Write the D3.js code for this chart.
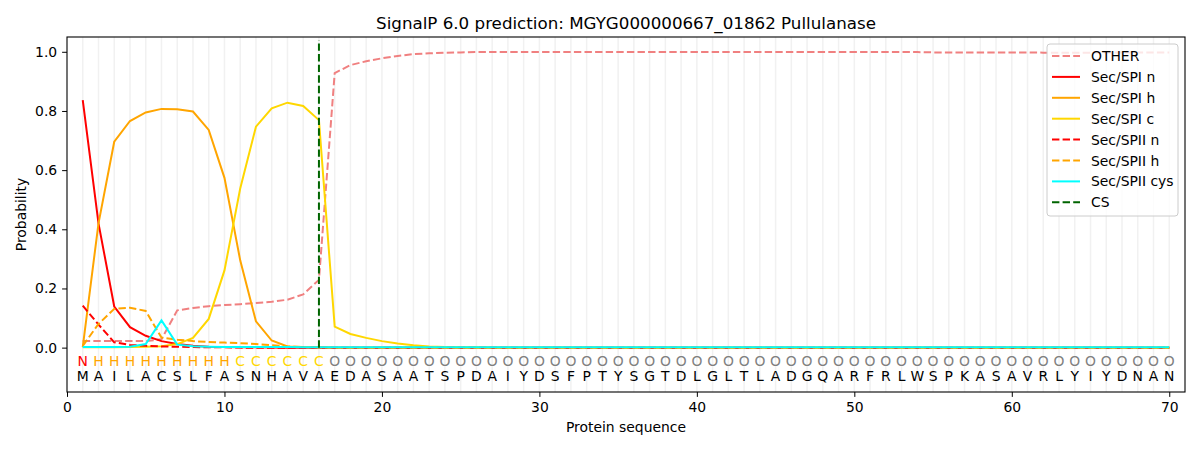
<!DOCTYPE html>
<html lang="en">
<head>
    <meta charset="UTF-8">
    <title>SignalP 6.0 prediction</title>
    <script src="https://d3js.org/d3.v7.min.js"></script>
    <style>
        body { margin: 0; background: #fff; }
        text { font-family: "DejaVu Sans", sans-serif; fill: #000; }
        .grid line { stroke: #f1f1f1; stroke-width: 1.5px; }
        .axis path, .axis line { stroke: #000; }
    </style>
</head>
<body>
    <svg width="1200" height="450"></svg>
    <script>
        // amino acid sequence and per-position region labels
        const sequence = "MAILACSLFASNHAVAEDASAATSPDAIYDSFPTYSGTDLGLTLADGQARFRLWSPKASAVRLYIYDNAN".split("");
        const regionLabels = ("N" + "HHHHHHHHH" + "CCCCCC" +
            "OOOOOOOOOOOOOOOOOOOOOOOOOOOOOOOOOOOOOOOOOOOOOOOOOOOOOO").split("");

        const other = [0.022, 0.022, 0.022, 0.022, 0.022, 0.028, 0.126, 0.134, 0.140, 0.144,
            0.147, 0.151, 0.155, 0.162, 0.180, 0.229, 0.928, 0.955, 0.968, 0.978,
            0.986, 0.992, 0.995, 0.997, 0.998, 0.999, 0.999, 0.999, 0.999, 0.999,
            0.999, 0.999, 0.999, 0.999, 0.999, 0.999, 0.999, 0.999, 0.999, 0.999,
            0.999, 0.999, 0.999, 0.999, 0.999, 0.999, 0.999, 0.999, 0.999, 0.999,
            0.999, 0.999, 0.999, 0.999, 0.998, 0.998, 0.998, 0.998, 0.998, 0.998,
            0.998, 0.997, 0.997, 0.997, 0.997, 0.998, 0.998, 0.998, 0.998, 0.998];
        const spiN = [0.837, 0.420, 0.139, 0.069, 0.040, 0.022, 0.012, 0.006, 0.003, 0.002,
            0.001, 0.001, 0, 0, 0, 0, 0, 0, 0, 0,
            0, 0, 0, 0, 0, 0, 0, 0, 0, 0,
            0, 0, 0, 0, 0, 0, 0, 0, 0, 0,
            0, 0, 0, 0, 0, 0, 0, 0, 0, 0,
            0, 0, 0, 0, 0, 0, 0, 0, 0, 0,
            0, 0, 0, 0, 0, 0, 0, 0, 0, 0];
        const spiH = [0.002, 0.420, 0.696, 0.766, 0.795, 0.807, 0.806, 0.798, 0.736, 0.574,
            0.295, 0.089, 0.024, 0.004, 0.002, 0.001, 0, 0, 0, 0,
            0, 0, 0, 0, 0, 0, 0, 0, 0, 0,
            0, 0, 0, 0, 0, 0, 0, 0, 0, 0,
            0, 0, 0, 0, 0, 0, 0, 0, 0, 0,
            0, 0, 0, 0, 0, 0, 0, 0, 0, 0,
            0, 0, 0, 0, 0, 0, 0, 0, 0, 0];
        const spiC = [0.001, 0.001, 0.001, 0.002, 0.003, 0.005, 0.012, 0.033, 0.097, 0.261,
            0.538, 0.747, 0.809, 0.828, 0.817, 0.769, 0.071, 0.046, 0.033, 0.022,
            0.014, 0.008, 0.004, 0.002, 0.001, 0.001, 0, 0, 0, 0,
            0, 0, 0, 0, 0, 0, 0, 0, 0, 0,
            0, 0, 0, 0, 0, 0, 0, 0, 0, 0,
            0, 0, 0, 0, 0, 0, 0, 0, 0, 0,
            0, 0, 0, 0, 0, 0, 0, 0, 0, 0];
        const spiiN = [0.142, 0.078, 0.018, 0.009, 0.006, 0.004, 0.003, 0.002, 0.001, 0.001,
            0, 0, 0, 0, 0, 0, 0, 0, 0, 0,
            0, 0, 0, 0, 0, 0, 0, 0, 0, 0,
            0, 0, 0, 0, 0, 0, 0, 0, 0, 0,
            0, 0, 0, 0, 0, 0, 0, 0, 0, 0,
            0, 0, 0, 0, 0, 0, 0, 0, 0, 0,
            0, 0, 0, 0, 0, 0, 0, 0, 0, 0];
        const spiiH = [0.006, 0.080, 0.131, 0.135, 0.124, 0.034, 0.027, 0.022, 0.019, 0.017,
            0.015, 0.012, 0.008, 0.004, 0.002, 0.001, 0, 0, 0, 0,
            0, 0, 0, 0, 0, 0, 0, 0, 0, 0,
            0, 0, 0, 0, 0, 0, 0, 0, 0, 0,
            0, 0, 0, 0, 0, 0, 0, 0, 0, 0,
            0, 0, 0, 0, 0, 0, 0, 0, 0, 0,
            0, 0, 0, 0, 0, 0, 0, 0, 0, 0];
        const spiiCys = [0.002, 0.002, 0.002, 0.003, 0.012, 0.092, 0.010, 0.005, 0.003, 0.002,
            0.002, 0.002, 0.002, 0.002, 0.001, 0.001, 0.001, 0.001, 0.001, 0.001,
            0.001, 0.001, 0.001, 0.001, 0.001, 0.001, 0.001, 0.001, 0.001, 0.001,
            0.001, 0.001, 0.001, 0.001, 0.001, 0.001, 0.001, 0.001, 0.001, 0.001,
            0.001, 0.001, 0.001, 0.001, 0.001, 0.001, 0.001, 0.001, 0.001, 0.001,
            0.001, 0.001, 0.001, 0.001, 0.001, 0.001, 0.001, 0.001, 0.001, 0.001,
            0.001, 0.001, 0.001, 0.001, 0.001, 0.001, 0.001, 0.001, 0.001, 0.001];
        const cleavageSite = 16;

        const series = [
            {name: "OTHER", values: other, color: "#f08080", dashed: true},
            {name: "Sec/SPI n", values: spiN, color: "#ff0000", dashed: false},
            {name: "Sec/SPI h", values: spiH, color: "#ffa500", dashed: false},
            {name: "Sec/SPI c", values: spiC, color: "#ffd700", dashed: false},
            {name: "Sec/SPII n", values: spiiN, color: "#ff0000", dashed: true},
            {name: "Sec/SPII h", values: spiiH, color: "#ffa500", dashed: true},
            {name: "Sec/SPII cys", values: spiiCys, color: "#00ffff", dashed: false}
        ];
        const labelColors = {N: "#ff0000", H: "#ffa500", C: "#ffd700", O: "#808080"};

        const plotLeft = 67, plotRight = 1185, plotTop = 37, plotBottom = 392;
        const svg = d3.select("svg");
        const x = d3.scaleLinear().domain([0, 71]).range([plotLeft, plotRight]);
        const y = d3.scaleLinear().domain([-0.15, 1.05]).range([plotBottom, plotTop]);
        const positions = sequence.map((d, i) => i + 1);

        // vertical grid at every residue
        svg.append("g").attr("class", "grid")
            .selectAll("line").data(positions).join("line")
            .attr("x1", d => x(d)).attr("x2", d => x(d))
            .attr("y1", plotTop).attr("y2", plotBottom);

        const line = d3.line().x((d, i) => x(i + 1)).y(d => y(d));
        svg.append("g").selectAll("path").data(series).join("path")
            .attr("d", d => line(d.values))
            .attr("fill", "none")
            .attr("stroke", d => d.color)
            .attr("stroke-width", 2)
            .attr("stroke-dasharray", d => d.dashed ? "7.4,3.2" : null);

        svg.append("line")
            .attr("x1", x(cleavageSite)).attr("x2", x(cleavageSite))
            .attr("y1", y(0)).attr("y2", y(1.04))
            .attr("stroke", "#006400").attr("stroke-width", 2)
            .attr("stroke-dasharray", "7.4,3.2");

        // residue labels
        svg.append("g").selectAll("text").data(regionLabels).join("text")
            .attr("x", (d, i) => x(i + 1)).attr("y", 361)
            .attr("text-anchor", "middle").attr("dominant-baseline", "central")
            .style("font-size", "13.9px")
            .style("fill", d => labelColors[d])
            .text(d => d);
        svg.append("g").selectAll("text").data(sequence).join("text")
            .attr("x", (d, i) => x(i + 1)).attr("y", 376)
            .attr("text-anchor", "middle").attr("dominant-baseline", "central")
            .style("font-size", "13.9px")
            .style("fill", "#000")
            .text(d => d);

        // axes
        svg.append("g").attr("class", "axis")
            .attr("transform", `translate(0,${plotBottom})`)
            .call(d3.axisBottom(x).tickValues([0, 10, 20, 30, 40, 50, 60, 70]).tickSize(4.9).tickPadding(4.9));
        svg.append("g").attr("class", "axis")
            .attr("transform", `translate(${plotLeft},0)`)
            .call(d3.axisLeft(y).tickValues([0, 0.2, 0.4, 0.6, 0.8, 1.0]).tickFormat(d3.format(".1f")).tickSize(4.9).tickPadding(4.9));
        svg.selectAll(".axis path").remove();
        svg.selectAll(".axis text").style("font-size", "13.9px").style("font-family", "DejaVu Sans");

        svg.append("rect")
            .attr("x", plotLeft).attr("y", plotTop)
            .attr("width", plotRight - plotLeft).attr("height", plotBottom - plotTop)
            .attr("fill", "none").attr("stroke", "#000").attr("stroke-width", 1.1);

        svg.append("text")
            .attr("x", (plotLeft + plotRight) / 2).attr("y", 29)
            .attr("text-anchor", "middle")
            .style("font-size", "16.7px")
            .text("SignalP 6.0 prediction: MGYG000000667_01862 Pullulanase");
        svg.append("text")
            .attr("x", (plotLeft + plotRight) / 2).attr("y", 432)
            .attr("text-anchor", "middle")
            .style("font-size", "13.9px")
            .text("Protein sequence");
        svg.append("text")
            .attr("transform", `translate(26,${(plotTop + plotBottom) / 2}) rotate(-90)`)
            .attr("text-anchor", "middle")
            .style("font-size", "13.9px")
            .text("Probability");

        // legend
        const legendItems = series.map(d => ({name: d.name, color: d.color, dashed: d.dashed}))
            .concat([{name: "CS", color: "#006400", dashed: true}]);
        const legend = svg.append("g").attr("transform", "translate(1047,44)");
        legend.append("rect")
            .attr("width", 131).attr("height", 172)
            .attr("rx", 3)
            .attr("fill", "#fff").attr("fill-opacity", 0.8)
            .attr("stroke", "#cccccc");
        const item = legend.selectAll("g.item").data(legendItems).join("g")
            .attr("class", "item")
            .attr("transform", (d, i) => `translate(0,${12 + i * 20.9})`);
        item.append("line")
            .attr("x1", 5).attr("x2", 33)
            .attr("stroke", d => d.color).attr("stroke-width", 2)
            .attr("stroke-dasharray", d => d.dashed ? "7.4,3.2" : null);
        item.append("text")
            .attr("x", 44).attr("dominant-baseline", "central")
            .style("font-size", "13.9px")
            .text(d => d.name);
    </script>
</body>
</html>
